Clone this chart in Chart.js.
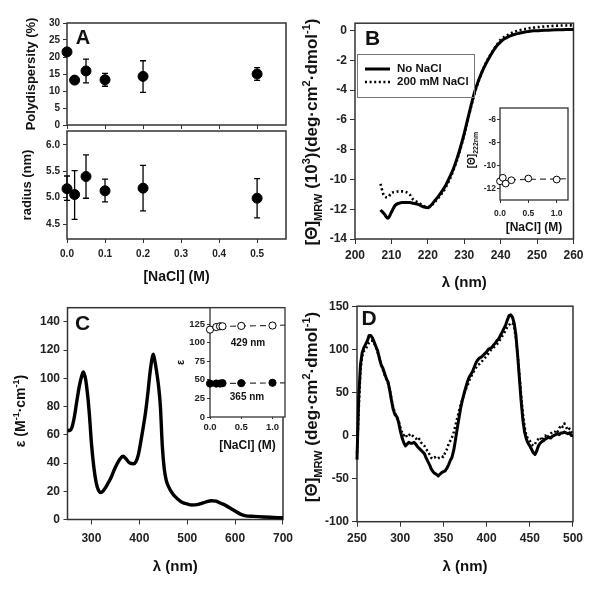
<!DOCTYPE html>
<html><head><meta charset="utf-8">
<script src="https://cdn.jsdelivr.net/npm/chart.js@4.4.1/dist/chart.umd.min.js"></script>
<style>
html,body{margin:0;padding:0;background:#fff;}
#wrap{position:relative;width:601px;height:596px;overflow:hidden;background:#fff;}
canvas{position:absolute;}
</style></head><body><div id="wrap"></div>
<script>
// ---------------- DATA ----------------
// Panel A
const naclA = [0, 0.02, 0.05, 0.1, 0.2, 0.5];
const polydispersity = [21.5, 13.2, 15.9, 13.3, 14.3, 15.0];
const polyErrLo = [null, null, 12.4, 11.4, 9.6, 13.1];
const polyErrHi = [null, null, 19.4, 15.2, 18.9, 16.9];
const radiusNm = [5.17, 5.06, 5.40, 5.13, 5.18, 4.99];
const radiusErrLo = [4.95, 4.59, 4.99, 4.92, 4.75, 4.62];
const radiusErrHi = [5.41, 5.51, 5.81, 5.35, 5.61, 5.36];
const naclTicksA = [0, 0.1, 0.2, 0.3, 0.4, 0.5];
const polyTicks = [0, 5, 10, 15, 20, 25, 30];
const radiusTicks = [4.5, 5.0, 5.5, 6.0];

// Panel B
const seriesNamesB = ['No NaCl', '200 mM NaCl'];
const wlB = [207,208,209,210,211,212,213,214,215,216,217,218,219,220,221,222,223,224,225,226,227,228,229,230,231,232,233,234,235,236,237,238,239,240,241,242,243,244,245,246,247,248,249,250,252,254,256,258,260];
const cdB_noNaCl = [-12.05,-12.3,-12.6,-12.2,-11.75,-11.6,-11.55,-11.55,-11.55,-11.6,-11.65,-11.75,-11.85,-11.9,-11.7,-11.4,-11.1,-10.75,-10.35,-9.85,-9.3,-8.6,-7.8,-6.9,-5.9,-4.9,-4.0,-3.3,-2.7,-2.2,-1.75,-1.35,-1.0,-0.75,-0.55,-0.42,-0.32,-0.24,-0.18,-0.12,-0.08,-0.04,-0.01,0.0,0.03,0.05,0.06,0.07,0.08];
const cdB_200mM = [-10.3,-11.1,-11.2,-10.9,-10.85,-10.8,-10.8,-10.85,-11.0,-11.35,-11.5,-11.65,-11.8,-11.85,-11.75,-11.5,-11.2,-10.9,-10.5,-10.0,-9.4,-8.7,-7.9,-7.0,-6.0,-5.0,-4.1,-3.35,-2.7,-2.15,-1.7,-1.3,-0.95,-0.6,-0.42,-0.28,-0.16,-0.06,0.02,0.08,0.13,0.17,0.2,0.23,0.28,0.31,0.34,0.35,0.36];
const wlTicksB = [200, 210, 220, 230, 240, 250, 260];
const cdTicksB = [-14, -12, -10, -8, -6, -4, -2, 0];
// Panel B inset
const naclBinset = [0, 0.05, 0.1, 0.2, 0.5, 1.0];
const theta222 = [-11.37, -11.07, -11.57, -11.28, -11.13, -11.22];
const fitBx = [0, 1.2];
const fitBy = [-11.25, -11.15];
const insetTicksBy = [-12, -10, -8, -6];
const insetTicksX = [0, 0.5, 1.0];

// Panel C
const wlC = [250,255,260,265,270,275,280,283,286,288,290,293,296,300,305,310,315,320,325,330,340,350,360,366,372,380,388,393,398,403,408,413,418,422,426,429,432,436,440,444,448,452,456,460,470,480,490,500,510,520,530,540,550,560,570,580,590,600,610,620,640,660,680,700];
const epsC = [63,63,66,74,85,95,102,104.5,102,99,94,85,73,54,37,26,20.5,19,20.5,23,29,37,43,44.8,43,40,39.5,41,46,55,65,76,90,103,113,117,113,105,95,80,52,36,28,24,18,14.5,12,11,10.3,10.5,11.5,12.5,13.3,13,11.5,10,8,6,4,2.8,2.2,1.8,1.5,1.2];
const wlTicksC = [300, 400, 500, 600, 700];
const epsTicksC = [0, 20, 40, 60, 80, 100, 120, 140];
// Panel C inset
const naclCinset = [0, 0.1, 0.16, 0.2, 0.5, 1.0];
const eps429 = [117.5, 121, 122, 122, 122.5, 123];
const eps365 = [45, 45, 45, 45.5, 45.5, 46];
const fitCx = [0, 1.2];
const fit429 = [121.5, 123.5];
const fit365 = [45, 46];
const insetLabelsC = ['429 nm', '365 nm'];
const insetTicksCy = [0, 25, 50, 75, 100, 125];

// Panel D
const wlD = [250,252,254,256,258,260,262,264,266,268,270,272,274,276,278,280,282,284,286,288,290,292,294,296,298,300,302,304,306,308,310,312,314,316,318,320,322,324,326,328,330,332,334,336,338,340,342,344,346,348,350,352,354,356,358,360,362,364,366,368,370,372,374,376,378,380,382,384,386,388,390,392,394,396,398,400,402,404,406,408,410,412,414,416,418,420,422,424,426,428,430,432,434,436,438,440,442,444,446,448,450,452,454,456,458,460,462,464,466,468,470,472,474,476,478,480,482,484,486,488,490,492,494,496,498,500];
const cdD_noNaCl = [-28,45,82,96,102,106,110,116,116,113,108,103,98,89,82,78,72,66,62,52,40,30,24,22,16,6,-2,-8,-12,-10,-8,-9,-9,-8,-10,-13,-15,-17,-19,-21,-26,-30,-34,-39,-42,-44,-45,-47,-45,-43,-42,-41,-38,-34,-29,-25,-17,-5,8,20,32,41,49,56,63,68,71,75,80,85,88,90,91,93,95,97,100,101,102,105,107,110,112,116,120,124,128,134,139,140,137,130,116,92,66,40,18,4,-4,-9,-12,-16,-20,-22,-18,-12,-9,-7,-6,-4,-3,-2,-3,-1,0,1,2,1,3,3,4,3,2,3,0,0];
const cdD_200mM = [-20,30,75,92,98,100,104,108,110,110,107,102,96,90,82,76,70,66,60,52,42,32,26,22,18,10,4,0,2,-2,0,2,0,-2,-3,-6,-4,-8,-10,-12,-16,-18,-22,-26,-27,-25,-27,-26,-26,-24,-25,-20,-16,-10,-6,-2,4,12,20,28,36,42,48,54,58,64,68,72,76,79,82,83,85,88,90,92,95,98,100,102,104,106,108,112,115,118,122,126,128,131,130,125,112,94,70,46,26,10,0,-4,-6,-10,-12,-10,-6,-4,-2,-6,-2,0,-3,0,2,4,0,6,4,8,12,10,14,10,6,8,4,2];
const wlTicksD = [250, 300, 350, 400, 450, 500];
const cdTicksD = [-100, -50, 0, 50, 100, 150];

// ---------------- RENDERING ----------------
const FONT = '"Liberation Sans", Arial, Helvetica, sans-serif';
const wrap = document.getElementById('wrap');

function rich(ctx, parts, x, y, rot, align) {
  ctx.save();
  ctx.translate(x, y); ctx.rotate(rot || 0);
  ctx.fillStyle = '#111'; ctx.textAlign = 'left'; ctx.textBaseline = 'alphabetic';
  let w = 0;
  for (const p of parts) { ctx.font = 'bold ' + p.s + 'px ' + FONT; p.w = ctx.measureText(p.t).width; w += p.w; }
  let cx = align === 'left' ? 0 : -w / 2;
  const base = parts[0].s * 0.35;
  for (const p of parts) { ctx.font = 'bold ' + p.s + 'px ' + FONT; ctx.fillText(p.t, cx, base + (p.dy || 0)); cx += p.w; }
  ctx.restore();
}

function axis(a, horizontal, size) {
  return {
    type: 'linear', min: a.min, max: a.max,
    grid: { drawOnChartArea: false, drawTicks: true, tickLength: a.tl == null ? 5 : a.tl, color: '#333', lineWidth: 1 },
    border: { display: false },
    ticks: {
      display: a.labels !== false,
      font: { family: FONT, size: a.font, weight: 'bold' }, color: '#222',
      padding: a.pad == null ? 3 : a.pad, maxRotation: 0, minRotation: 0, autoSkip: false,
      callback: (v) => a.fmt ? a.fmt(v) : String(v)
    },
    afterBuildTicks: s => { s.ticks = a.ticks.map(v => ({ value: v })); },
    afterFit: s => { if (horizontal) s.height = size; else s.width = size; },
    title: a.title ? { display: true, text: a.title, font: { family: FONT, size: a.titleSize, weight: 'bold' }, color: '#111', padding: { top: 4, bottom: 4 } } : { display: false }
  };
}

function pts(xs, ys) { return xs.map((x, i) => ({ x: x, y: ys[i] })); }
function line(xs, ys, opt) {
  return Object.assign({ data: pts(xs, ys), showLine: true, pointRadius: 0, borderColor: '#000', borderWidth: 3, fill: false, clip: false, borderCapStyle: 'butt', borderJoinStyle: 'round' }, opt || {});
}
function dots(xs, ys, opt) {
  return Object.assign({ data: pts(xs, ys), showLine: false, pointRadius: 5, pointBackgroundColor: '#000', pointBorderColor: '#000', pointBorderWidth: 1, clip: false }, opt || {});
}

function panel(o) {
  const c = document.createElement('canvas');
  const w = o.cr - o.cl, h = o.cb - o.ct;
  c.width = w; c.height = h;
  c.style.left = o.cl + 'px'; c.style.top = o.ct + 'px'; c.style.width = w + 'px'; c.style.height = h + 'px';
  wrap.appendChild(c);
  const deco = {
    id: 'deco_' + o.id,
    beforeDraw(ch) {
      if (!o.bg) return;
      const a = ch.chartArea, ctx = ch.ctx;
      ctx.save(); ctx.fillStyle = '#fff'; ctx.fillRect(a.left, a.top, a.right - a.left, a.bottom - a.top); ctx.restore();
    },
    beforeDatasetsDraw(ch) {
      const ctx = ch.ctx, a = ch.chartArea;
      ctx.save();
      ctx.strokeStyle = '#333'; ctx.lineWidth = o.frameW || 1.5;
      ctx.strokeRect(a.left, a.top, a.right - a.left, a.bottom - a.top);
      ch.data.datasets.forEach((ds, i) => {
        if (!ds.errLo) return;
        const meta = ch.getDatasetMeta(i), ys = ch.scales.y;
        ctx.strokeStyle = '#000'; ctx.lineWidth = 1.3;
        meta.data.forEach((pt, j) => {
          const lo = ds.errLo[j], hi = ds.errHi[j];
          if (lo == null || hi == null) return;
          const y1 = ys.getPixelForValue(lo), y2 = ys.getPixelForValue(hi);
          ctx.beginPath();
          ctx.moveTo(pt.x, y1); ctx.lineTo(pt.x, y2);
          ctx.moveTo(pt.x - 3, y1); ctx.lineTo(pt.x + 3, y1);
          ctx.moveTo(pt.x - 3, y2); ctx.lineTo(pt.x + 3, y2);
          ctx.stroke();
        });
      });
      ctx.restore();
    },
    afterDraw(ch) {
      if (!o.after) return;
      const ctx = ch.ctx; ctx.save(); ctx.translate(-o.cl, -o.ct); o.after(ctx, ch); ctx.restore();
    }
  };
  return new Chart(c, {
    type: 'scatter',
    data: { datasets: o.datasets },
    options: {
      responsive: false, animation: false, devicePixelRatio: 1,
      layout: { padding: { left: 0, bottom: 0, top: o.T - o.ct, right: o.cr - o.R } },
      plugins: { legend: { display: false }, tooltip: { enabled: false } },
      scales: { x: axis(o.x, true, o.cb - o.B), y: axis(o.y, false, o.L - o.cl) }
    },
    plugins: [deco]
  });
}

const f1 = v => Number(v).toFixed(1);

// ---- Panel A (top: polydispersity) ----
panel({
  id: 'Atop', cl: 20, ct: 14, cr: 296, cb: 134, L: 67, T: 22, R: 286, B: 130,
  x: { min: 0, max: 0.576, ticks: naclTicksA, labels: false, tl: 4, font: 10 },
  y: { min: 0, max: 30, ticks: polyTicks, font: 10, tl: 4, pad: 3, title: 'Polydispersity (%)', titleSize: 13 },
  datasets: [Object.assign(dots(naclA, polydispersity), { errLo: polyErrLo, errHi: polyErrHi })],
  after(ctx) { rich(ctx, [{ t: 'A', s: 20 }], 83, 37, 0); }
});
// ---- Panel A (bottom: radius) ----
panel({
  id: 'Abot', cl: 16, ct: 122, cr: 296, cb: 290, L: 67, T: 130, R: 286, B: 239,
  x: { min: 0, max: 0.576, ticks: naclTicksA, tl: 4, pad: 5, font: 10, fmt: f1, title: '[NaCl] (M)', titleSize: 14 },
  y: { min: 4.22, max: 6.26, ticks: radiusTicks, font: 10, tl: 4, pad: 3, fmt: f1, title: 'radius (nm)', titleSize: 13 },
  datasets: [Object.assign(dots(naclA, radiusNm), { errLo: radiusErrLo, errHi: radiusErrHi })]
});

// ---- Panel B ----
panel({
  id: 'B', cl: 300, ct: 13, cr: 588, cb: 296, L: 355, T: 21, R: 574, B: 239,
  x: { min: 200, max: 260, ticks: wlTicksB, tl: 5, pad: 4.5, font: 12, title: 'λ (nm)', titleSize: 15 },
  y: { min: -14, max: 0.5, ticks: cdTicksB, tl: 5, pad: 3, font: 12 },
  datasets: [
    line(wlB, cdB_noNaCl, { label: seriesNamesB[0], borderWidth: 3, cubicInterpolationMode: 'monotone' }),
    line(wlB, cdB_200mM, { label: seriesNamesB[1], borderWidth: 2.6, borderDash: [2, 2.6], cubicInterpolationMode: 'monotone' })
  ],
  after(ctx, ch) {
    rich(ctx, [{ t: '[Θ]', s: 17 }, { t: 'MRW', s: 11, dy: 5 }, { t: ' (10', s: 17 }, { t: '3', s: 11, dy: -7 }, { t: ')(deg·cm', s: 17 }, { t: '2', s: 11, dy: -7 }, { t: '·dmol', s: 17 }, { t: '-1', s: 11, dy: -7 }, { t: ')', s: 17 }], 311, 132, -Math.PI / 2);
    rich(ctx, [{ t: 'B', s: 21 }], 372.5, 38, 0);
    // legend
    ctx.save();
    ctx.strokeStyle = '#777'; ctx.lineWidth = 1;
    ctx.strokeRect(357.5, 54.5, 117, 43);
    ctx.strokeStyle = '#000';
    ctx.lineWidth = 3; ctx.beginPath(); ctx.moveTo(365, 69); ctx.lineTo(390, 69); ctx.stroke();
    ctx.lineWidth = 2.6; ctx.setLineDash([2, 2.6]); ctx.beginPath(); ctx.moveTo(365, 82); ctx.lineTo(390, 82); ctx.stroke();
    ctx.setLineDash([]);
    ctx.fillStyle = '#111'; ctx.font = 'bold 11.5px ' + FONT; ctx.textBaseline = 'middle'; ctx.textAlign = 'left';
    ctx.fillText(ch.data.datasets[0].label, 397, 69);
    ctx.fillText(ch.data.datasets[1].label, 397, 82);
    ctx.restore();
  }
});
// ---- Panel B inset ----
panel({
  id: 'Bin', cl: 450, ct: 100, cr: 578, cb: 239, L: 500, T: 108, R: 568, B: 200, bg: true, frameW: 1.3,
  x: { min: 0, max: 1.2, ticks: insetTicksX, tl: 3, pad: 5.5, font: 8.5, fmt: f1, title: '[NaCl] (M)', titleSize: 12 },
  y: { min: -13, max: -5, ticks: insetTicksBy, tl: 3, pad: 1, font: 8.5 },
  datasets: [
    dots(naclBinset, theta222, { pointRadius: 3.4, pointBackgroundColor: '#fff', pointBorderColor: '#000', pointBorderWidth: 1 }),
    line(fitBx, fitBy, { borderWidth: 1.2, borderColor: '#333', borderDash: [6, 4] })
  ],
  after(ctx) {
    rich(ctx, [{ t: '[Θ]', s: 10 }, { t: '222nm', s: 7, dy: 3 }], 471, 150, -Math.PI / 2);
  }
});

// ---- Panel C ----
panel({
  id: 'C', cl: 4, ct: 297, cr: 300, cb: 580, L: 67.5, T: 305, R: 286.7, B: 519.5,
  x: { min: 250, max: 700, ticks: wlTicksC, tl: 5, pad: 7, font: 12, title: 'λ (nm)', titleSize: 15 },
  y: { min: 0, max: 150, ticks: epsTicksC, tl: 4, pad: 3.5, font: 12 },
  datasets: [line(wlC, epsC, { borderWidth: 3.4, cubicInterpolationMode: 'monotone' })],
  after(ctx) {
    rich(ctx, [{ t: 'ε (M', s: 14 }, { t: '-1', s: 9, dy: -6 }, { t: '·cm', s: 14 }, { t: '-1', s: 9, dy: -6 }, { t: ')', s: 14 }], 20, 411, -Math.PI / 2);
    rich(ctx, [{ t: 'C', s: 21 }], 82.5, 323, 0);
  }
});
// ---- Panel C inset ----
panel({
  id: 'Cin', cl: 170, ct: 300, cr: 293, cb: 457, L: 210, T: 307, R: 285, B: 417, bg: true, frameW: 1.3,
  x: { min: 0, max: 1.2, ticks: insetTicksX, tl: 2, pad: 3, font: 9.5, fmt: f1, title: '[NaCl] (M)', titleSize: 12 },
  y: { min: 0, max: 147, ticks: insetTicksCy, tl: 3, pad: 2, font: 9.5, title: 'ε', titleSize: 11 },
  datasets: [
    dots(naclCinset, eps429, { pointRadius: 3.6, pointBackgroundColor: '#fff', pointBorderColor: '#000', pointBorderWidth: 1 }),
    dots(naclCinset, eps365, { pointRadius: 3.6, pointBackgroundColor: '#000', pointBorderColor: '#000' }),
    line(fitCx, fit429, { borderWidth: 1.2, borderColor: '#333', borderDash: [6, 4] }),
    line(fitCx, fit365, { borderWidth: 1.2, borderColor: '#333', borderDash: [6, 4] })
  ],
  after(ctx) {
    ctx.save();
    ctx.fillStyle = '#111'; ctx.font = 'bold 10px ' + FONT; ctx.textAlign = 'center'; ctx.textBaseline = 'middle';
    ctx.fillText(insetLabelsC[0], 248, 343);
    ctx.fillText(insetLabelsC[1], 247, 397);
    ctx.restore();
  }
});

// ---- Panel D ----
panel({
  id: 'D', cl: 300, ct: 296, cr: 588, cb: 580, L: 357, T: 304, R: 574, B: 521.7,
  x: { min: 250, max: 500, ticks: wlTicksD, tl: 5, pad: 5, font: 12, title: 'λ (nm)', titleSize: 15 },
  y: { min: -100, max: 150, ticks: cdTicksD, tl: 5, pad: 3, font: 12 },
  datasets: [
    line(wlD, cdD_noNaCl, { label: 'No NaCl', borderWidth: 3 }),
    line(wlD, cdD_200mM, { label: '200 mM NaCl', borderWidth: 2.5, borderDash: [2, 2.6] })
  ],
  after(ctx) {
    rich(ctx, [{ t: '[Θ]', s: 17 }, { t: 'MRW', s: 11, dy: 5 }, { t: ' (deg·cm', s: 17 }, { t: '2', s: 11, dy: -7 }, { t: '·dmol', s: 17 }, { t: '-1', s: 11, dy: -7 }, { t: ')', s: 17 }], 311, 407, -Math.PI / 2);
    rich(ctx, [{ t: 'D', s: 21 }], 369, 318, 0);
  }
});
</script>
</body></html>
